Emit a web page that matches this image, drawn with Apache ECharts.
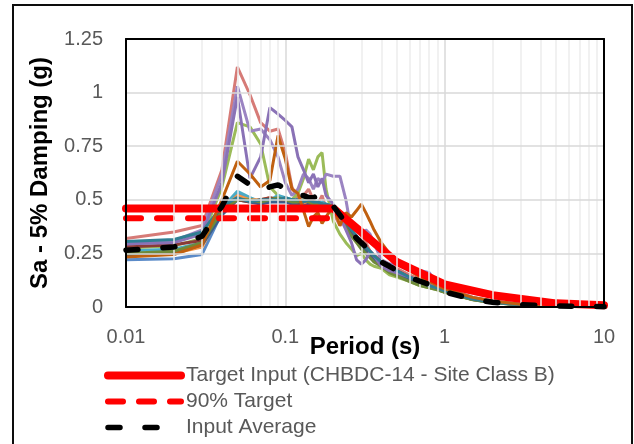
<!DOCTYPE html>
<html>
<head>
<meta charset="utf-8">
<script src="https://cdn.jsdelivr.net/npm/echarts@6/dist/echarts.min.js"></script>
<style>
  html, body { margin: 0; padding: 0; background: #fff; }
  #chart { width: 634px; height: 444px; }
</style>
</head>
<body>
<div id="chart"></div>
<script>
// Spectral periods (s) shared by the input records
const periods = [0.01, 0.02, 0.03, 0.04, 0.05, 0.06, 0.07, 0.08, 0.09, 0.1,
  0.11, 0.12, 0.13, 0.14, 0.15, 0.16, 0.17, 0.18, 0.2, 0.22,
  0.24, 0.26, 0.28, 0.3, 0.32, 0.34, 0.36, 0.4, 0.45, 0.5,
  0.6, 0.7, 0.8, 0.9, 1, 1.5, 2, 3, 4, 5, 7, 10];

// Individual input records, Sa (g)
const recBlue = [0.22, 0.225, 0.245, 0.44, 0.53, 0.50, 0.49, 0.49, 0.50, 0.50,
  0.49, 0.48, 0.48, 0.49, 0.48, 0.47, 0.48, 0.47, 0.46, 0.44,
  0.40, 0.36, 0.33, 0.30, 0.28, 0.26, 0.24, 0.22, 0.19, 0.17,
  0.14, 0.12, 0.105, 0.09, 0.075, 0.038, 0.023, 0.011, 0.007, 0.005, 0.003, 0.0015];
const recRed = [0.32, 0.35, 0.38, 0.64, 1.12, 0.99, 0.86, 0.82, 0.83, 0.72,
  0.56, 0.50, 0.52, 0.55, 0.50, 0.48, 0.52, 0.46, 0.44, 0.38,
  0.42, 0.36, 0.30, 0.32, 0.30, 0.26, 0.24, 0.22, 0.20, 0.18,
  0.15, 0.13, 0.11, 0.095, 0.085, 0.045, 0.027, 0.013, 0.008, 0.006, 0.004, 0.002];
const recGreen = [0.275, 0.285, 0.32, 0.56, 0.86, 0.84, 0.76, 0.56, 0.52, 0.50,
  0.50, 0.53, 0.60, 0.69, 0.64, 0.70, 0.72, 0.55, 0.40, 0.34,
  0.30, 0.27, 0.24, 0.25, 0.22, 0.20, 0.19, 0.18, 0.15, 0.14,
  0.12, 0.10, 0.09, 0.08, 0.07, 0.035, 0.02, 0.01, 0.007, 0.005, 0.003, 0.002];
const recPurple = [0.29, 0.31, 0.36, 0.62, 1.03, 0.82, 0.83, 0.78, 0.70, 0.58,
  0.52, 0.55, 0.62, 0.60, 0.55, 0.60, 0.58, 0.62, 0.61, 0.61,
  0.50, 0.35, 0.38, 0.33, 0.36, 0.34, 0.30, 0.22, 0.20, 0.20,
  0.17, 0.17, 0.16, 0.11, 0.09, 0.045, 0.028, 0.014, 0.009, 0.006, 0.004, 0.002];
const recAqua = [0.26, 0.27, 0.30, 0.46, 0.54, 0.51, 0.49, 0.50, 0.52, 0.51,
  0.50, 0.49, 0.50, 0.50, 0.49, 0.48, 0.49, 0.48, 0.47, 0.43,
  0.39, 0.35, 0.32, 0.29, 0.27, 0.25, 0.23, 0.21, 0.18, 0.16,
  0.13, 0.115, 0.10, 0.085, 0.072, 0.036, 0.022, 0.011, 0.007, 0.005, 0.003, 0.0015];
const recOrange = [0.245, 0.25, 0.28, 0.45, 0.52, 0.50, 0.50, 0.51, 0.50, 0.50,
  0.49, 0.50, 0.49, 0.48, 0.49, 0.48, 0.47, 0.47, 0.46, 0.42,
  0.38, 0.35, 0.31, 0.29, 0.27, 0.25, 0.23, 0.21, 0.18, 0.16,
  0.13, 0.11, 0.10, 0.085, 0.07, 0.035, 0.021, 0.01, 0.007, 0.005, 0.003, 0.0015];
const recDarkBlue = [0.24, 0.25, 0.29, 0.43, 0.50, 0.49, 0.48, 0.49, 0.49, 0.49,
  0.48, 0.48, 0.47, 0.48, 0.47, 0.47, 0.46, 0.46, 0.45, 0.42,
  0.38, 0.34, 0.31, 0.28, 0.26, 0.24, 0.22, 0.20, 0.17, 0.15,
  0.13, 0.11, 0.095, 0.082, 0.07, 0.035, 0.021, 0.01, 0.007, 0.005, 0.003, 0.0015];
const recDarkRed = [0.28, 0.29, 0.31, 0.46, 0.50, 0.49, 0.50, 0.51, 0.50, 0.50,
  0.50, 0.49, 0.49, 0.50, 0.49, 0.48, 0.48, 0.47, 0.46, 0.43,
  0.40, 0.36, 0.32, 0.30, 0.28, 0.26, 0.24, 0.21, 0.19, 0.17,
  0.14, 0.12, 0.10, 0.088, 0.075, 0.037, 0.022, 0.011, 0.007, 0.005, 0.003, 0.0015];
const recOlive = [0.25, 0.26, 0.30, 0.45, 0.50, 0.50, 0.49, 0.50, 0.51, 0.50,
  0.49, 0.49, 0.50, 0.49, 0.48, 0.48, 0.48, 0.47, 0.46, 0.42,
  0.37, 0.33, 0.30, 0.27, 0.25, 0.23, 0.21, 0.19, 0.16, 0.145,
  0.12, 0.10, 0.09, 0.08, 0.068, 0.034, 0.02, 0.01, 0.006, 0.004, 0.003, 0.0015];
const recDarkPurple = [0.295, 0.30, 0.34, 0.58, 0.98, 0.60, 0.70, 0.93, 0.90, 0.87,
  0.84, 0.70, 0.64, 0.58, 0.62, 0.56, 0.60, 0.52, 0.48, 0.42,
  0.36, 0.30, 0.22, 0.20, 0.22, 0.26, 0.24, 0.19, 0.17, 0.16,
  0.14, 0.12, 0.10, 0.09, 0.08, 0.04, 0.025, 0.012, 0.008, 0.005, 0.003, 0.0015];
const recDarkAqua = [0.305, 0.315, 0.35, 0.47, 0.51, 0.49, 0.50, 0.50, 0.50, 0.51,
  0.50, 0.50, 0.49, 0.50, 0.49, 0.49, 0.48, 0.48, 0.47, 0.44,
  0.40, 0.36, 0.33, 0.30, 0.28, 0.26, 0.24, 0.21, 0.19, 0.17,
  0.14, 0.12, 0.10, 0.088, 0.075, 0.037, 0.022, 0.011, 0.007, 0.005, 0.003, 0.0015];
const recDarkOrange = [0.233, 0.245, 0.29, 0.50, 0.68, 0.62, 0.56, 0.59, 0.80, 0.69,
  0.55, 0.53, 0.45, 0.375, 0.42, 0.44, 0.39, 0.42, 0.47, 0.38,
  0.44, 0.42, 0.45, 0.48, 0.44, 0.40, 0.36, 0.30, 0.25, 0.21,
  0.17, 0.14, 0.12, 0.10, 0.085, 0.045, 0.028, 0.013, 0.009, 0.006, 0.004, 0.002];

// Average of the input records, Sa (g)
const avgSa = [0.265, 0.28, 0.33, 0.47, 0.61, 0.57, 0.54, 0.56, 0.57, 0.55,
  0.53, 0.52, 0.52, 0.51, 0.51, 0.52, 0.52, 0.50, 0.47, 0.43,
  0.39, 0.35, 0.32, 0.30, 0.28, 0.26, 0.24, 0.21, 0.19, 0.17,
  0.14, 0.12, 0.105, 0.09, 0.07, 0.037, 0.022, 0.011, 0.007, 0.005, 0.003, 0.0015];

// Target spectrum (CHBDC-14, Site Class B)
const targetT = [0.01, 0.2, 0.5, 1, 2, 5, 10];
const targetSa = [0.46, 0.46, 0.21, 0.105, 0.055, 0.017, 0.008];

// 90% of target over the short-period plateau
const target90T = [0.01, 0.2];
const target90Sa = [0.414, 0.414];

// Minor log-grid positions on the period axis
const minorTicks = [0.02, 0.03, 0.04, 0.05, 0.06, 0.07, 0.08, 0.09,
  0.2, 0.3, 0.4, 0.5, 0.6, 0.7, 0.8, 0.9,
  2, 3, 4, 5, 6, 7, 8, 9];

const records = [
  { name: 'Record 1', color: '#5B8BC8', values: recBlue },
  { name: 'Record 2', color: '#D67B77', values: recRed },
  { name: 'Record 3', color: '#9BBB59', values: recGreen },
  { name: 'Record 4', color: '#9B84C2', values: recPurple },
  { name: 'Record 5', color: '#4BACC6', values: recAqua },
  { name: 'Record 6', color: '#F79646', values: recOrange },
  { name: 'Record 7', color: '#3A5F8E', values: recDarkBlue },
  { name: 'Record 8', color: '#8B3A37', values: recDarkRed },
  { name: 'Record 9', color: '#6F8A3A', values: recOlive },
  { name: 'Record 10', color: '#8A72B6', values: recDarkPurple },
  { name: 'Record 11', color: '#2F7F93', values: recDarkAqua },
  { name: 'Record 12', color: '#C0600F', values: recDarkOrange }
];

const FONT = 'Liberation Sans, Arial, sans-serif';
const pairs = (xs, ys) => xs.map((x, i) => [x, ys[i]]);

const targetLine = { color: '#FF0000', width: 8, cap: 'round', join: 'round' };
const target90Line = { color: '#FF0000', width: 6, type: [15, 16], cap: 'round' };
const avgLine = { color: '#000000', width: 5.5, type: [12, 25], cap: 'round' };

const series = [];

// light minor gridlines for the logarithmic period axis
series.push({
  name: 'minor-grid',
  type: 'line',
  data: [],
  silent: true,
  z: 1,
  markLine: {
    silent: true,
    symbol: 'none',
    label: { show: false },
    animation: false,
    lineStyle: { color: '#ededed', width: 1.5, type: 'solid' },
    data: minorTicks.map(v => ({ xAxis: v }))
  }
});

records.forEach(r => {
  series.push({
    name: r.name,
    type: 'line',
    data: pairs(periods, r.values),
    symbol: 'none',
    z: 2,
    lineStyle: { color: r.color, width: 3 },
    itemStyle: { color: r.color }
  });
});

series.push({
  name: 'Target Input (CHBDC-14 - Site Class B)',
  type: 'line',
  data: pairs(targetT, targetSa),
  symbol: 'none',
  z: 3,
  lineStyle: targetLine,
  itemStyle: { color: '#FF0000' }
});

series.push({
  name: '90% Target',
  type: 'line',
  data: pairs(target90T, target90Sa),
  symbol: 'none',
  z: 4,
  lineStyle: target90Line,
  itemStyle: { color: '#FF0000' }
});

series.push({
  name: 'Input Average',
  type: 'line',
  data: pairs(periods, avgSa),
  symbol: 'none',
  z: 5,
  lineStyle: avgLine,
  itemStyle: { color: '#000000' }
});

const chart = echarts.init(document.getElementById('chart'), null, { renderer: 'canvas' });

// top and right edges of the plot frame
const frameAxis = {
  axisLine: { show: true, onZero: false, lineStyle: { color: '#000', width: 2 } },
  axisTick: { show: false },
  axisLabel: { show: false },
  splitLine: { show: false },
  z: 10
};

chart.setOption({
  animation: false,
  backgroundColor: '#ffffff',
  textStyle: { fontFamily: FONT },
  graphic: [{
    type: 'rect',
    silent: true,
    shape: { x: 13, y: 5, width: 619, height: 460 },
    style: { fill: 'none', stroke: '#0d0d0d', lineWidth: 2 },
    z: 0
  }],
  grid: {
    left: 126, top: 39, right: 30, bottom: 137
  },
  legend: {
    orient: 'vertical',
    left: 104,
    top: 365,
    height: 79,
    padding: 0,
    itemWidth: 73,
    itemHeight: 14,
    itemGap: 5,
    selectedMode: false,
    itemStyle: { opacity: 0 },
    data: [
      { name: 'Target Input (CHBDC-14 - Site Class B)', lineStyle: targetLine, itemStyle: { opacity: 0 } },
      { name: '90% Target', lineStyle: target90Line, itemStyle: { opacity: 0 } },
      { name: 'Input Average', lineStyle: avgLine, itemStyle: { opacity: 0 } }
    ],
    textStyle: {
      color: '#595959',
      fontSize: 21,
      lineHeight: 21,
      fontFamily: FONT
    }
  },
  xAxis: [{
    type: 'log',
    logBase: 10,
    min: 0.01,
    max: 10,
    name: 'Period (s)',
    nameLocation: 'middle',
    nameGap: 28,
    nameMoveOverlap: false,
    nameTextStyle: { color: '#000', fontSize: 24, fontWeight: 'bold', fontFamily: FONT },
    axisLine: { show: true, onZero: false, lineStyle: { color: '#000', width: 2 } },
    axisTick: { show: false },
    axisLabel: { color: '#595959', fontSize: 20, margin: 20 },
    splitLine: { show: true, lineStyle: { color: '#d9d9d9', width: 1.5 } },
    z: 10
  }, Object.assign({
    type: 'log', logBase: 10, min: 0.01, max: 10, position: 'top'
  }, frameAxis)],
  yAxis: [{
    type: 'value',
    min: 0,
    max: 1.25,
    interval: 0.25,
    name: 'Sa - 5% Damping (g)',
    nameLocation: 'middle',
    nameGap: 74,
    nameMoveOverlap: false,
    nameTextStyle: { color: '#000', fontSize: 24, fontWeight: 'bold', fontFamily: FONT },
    axisLine: { show: true, onZero: false, lineStyle: { color: '#000', width: 2 } },
    axisTick: { show: false },
    axisLabel: { color: '#595959', fontSize: 20, margin: 23 },
    splitLine: { show: true, lineStyle: { color: '#d9d9d9', width: 1.5 } },
    z: 10
  }, Object.assign({
    type: 'value', min: 0, max: 1.25, interval: 0.25, position: 'right'
  }, frameAxis)],
  series: series
});
</script>
</body>
</html>
